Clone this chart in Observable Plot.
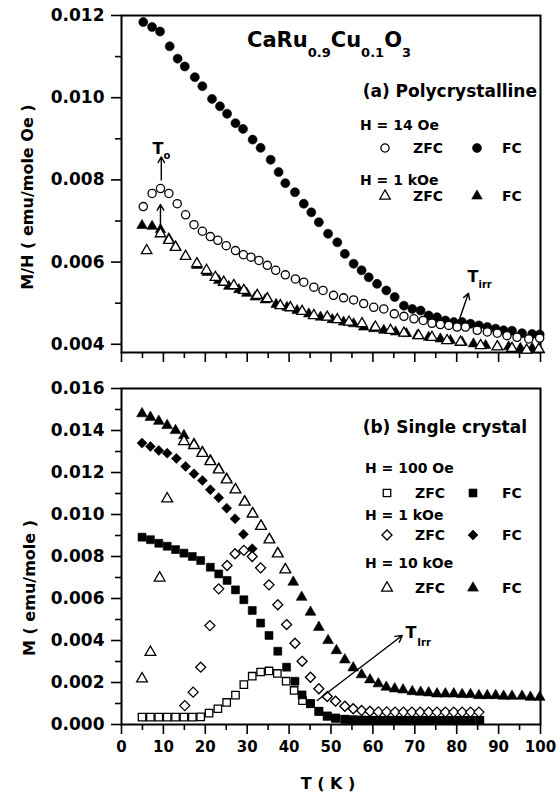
<!DOCTYPE html>
<html><head><meta charset="utf-8">
<script src="https://cdn.jsdelivr.net/npm/d3@7"></script>
<script src="https://cdn.jsdelivr.net/npm/@observablehq/plot@0.6"></script>
<style>
html,body{margin:0;padding:0;background:#fff;}
#chart{position:relative;width:557px;height:797px;overflow:hidden;background:#fff;}
#chart svg{position:absolute;left:0;}
</style></head><body><div id="chart"></div>
<script>
// ---------- Panel (a): Polycrystalline, M/H vs T ----------
const a_fc14_T = [5.2,7.3,9.2,11.5,13.4,15.1,17.5,19.3,21.6,23.5,25.2,27.2,29.0,31.3,33.2,35.6,37.5,39.1,41.4,43.5,45.3,47.1,49.3,51.5,53.3,55.4,57.3,59.0,61.0,63.2,65.2,67.4,69.4,71.4,73.3,75.3,77.3,79.3,81.3,83.3,85.3,87.3,89.3,91.2,93.2,95.6,98.0,99.8];
const a_fc14_M = [.01184,.01172,.01161,.01125,.01095,.01076,.0105,.01028,.00997,.00979,.00961,.00938,.00924,.00898,.00878,.00849,.00819,.00792,.00770,.00742,.00721,.00697,.00669,.00648,.0062,.00596,.0058,.00563,.00547,.00531,.00515,.00494,.00486,.00482,.0047,.00466,.00458,.00454,.00454,.0045,.00446,.00442,.00438,.00434,.00433,.00427,.00425,.00424];
const a_zfc14_T = [5.2,7.3,9.3,11.3,13.3,15.3,17.3,19.3,21.2,23.0,25.0,27.2,29.1,30.9,32.8,34.8,36.8,39.1,41.5,43.5,45.9,48.1,50.6,53.0,55.4,57.8,60.2,62.6,65.1,67.4,69.8,72.0,74.1,76.1,78.1,80.1,82.1,84.9,87.3,89.7,92.0,94.4,97.2,99.8];
const a_zfc14_M = [.00735,.00767,.00779,.00767,.00742,.00715,.00691,.00675,.00662,.00653,.0064,.00628,.00618,.00612,.00604,.00592,.0058,.00569,.00559,.00551,.00539,.00531,.00519,.00513,.00508,.00499,.0049,.00486,.00474,.00468,.00462,.00458,.00451,.00448,.00446,.00442,.00442,.00434,.0043,.00427,.00421,.00417,.00413,.00415];
const a_fc1k_T = [4.9,7.3,9.3,11.3,12.9,15.3,18.0,20.4,23.2,25.6,28.0,29.9,31.9,34.3,36.9,39.5,41.9,44.7,47.5,50.3,53.0,55.4,57.8,60.2,62.6,65.4,68.0,70.6,73.3,76.1,78.5,81.3,84.0,86.9,89.7,92.4,95.2,98.0,99.8];
const a_fc1k_M = [.00689,.00687,.00679,.00657,.00638,.00614,.00592,.00575,.00555,.00541,.00533,.00524,.00515,.00508,.00497,.0049,.00482,.00474,.00466,.0046,.00454,.0045,.00442,.00438,.00434,.0043,.00426,.00421,.00417,.00413,.00409,.00405,.00401,.00397,.00395,.00394,.0039,.0039,.00386];
const a_zfc1k_T = [6.0,9.3,11.3,12.9,15.3,18.0,20.3,22.4,24.4,26.8,29.2,32.4,34.8,37.9,40.3,43.1,45.9,49.1,51.5,54.3,57.4,60.6,64.2,67.4,70.9,74.1,77.7,80.9,85.7,89.7,93.2,96.7,99.6];
const a_zfc1k_M = [.00628,.00669,.00653,.00636,.00614,.00596,.0058,.00563,.00551,.00543,.00531,.00519,.00511,.00494,.00489,.0048,.0047,.00466,.0046,.00454,.0045,.00442,.00434,.00427,.00421,.00417,.00409,.00405,.00397,.00394,.0039,.00386,.00388];

// ---------- Panel (b): Single crystal, M vs T ----------
const b_fc100_T = [4.9,6.9,8.9,10.9,12.9,14.9,16.9,18.9,21.2,23.2,25.2,27.2,29.2,31.2,33.2,35.2,37.3,39.4,41.4,43.1,45.1,47.1,49.1,51.1,53.3,55.3,57.3,59.3,61.3,63.3,65.3,67.3,69.3,71.3,73.3,75.3,77.3,79.3,81.3,83.3,85.5];
const b_fc100_M = [.00892,.0088,.00863,.00849,.00833,.00816,.008,.00781,.00749,.00717,.00686,.00641,.00594,.00543,.00483,.00424,.00349,.00273,.00206,.00141,.00099,.00063,.0004,.0003,.00025,.00022,.00021,.0002,.0002,.0002,.0002,.0002,.0002,.0002,.0002,.0002,.0002,.0002,.0002,.0002,.0002];
const b_zfc100_T = [4.9,6.9,8.9,10.9,12.9,14.9,16.9,18.9,20.9,23.0,25.1,27.2,29.2,31.2,33.2,35.2,37.2,39.3,41.2,43.2,45.1,47.1,49.1,51.1,53.3,55.3,57.3,59.3,61.3,63.3,65.3,67.3,69.3,71.3,73.3,75.3,77.3,79.3,81.3,83.3,85.5];
const b_zfc100_M = [.00035,.00035,.00035,.00035,.00035,.00035,.00035,.00036,.00054,.00075,.00105,.0014,.0019,.0023,.0025,.00255,.00243,.00206,.00162,.00114,.00099,.00063,.0004,.0003,.00025,.00022,.00021,.0002,.0002,.0002,.0002,.0002,.0002,.0002,.0002,.0002,.0002,.0002,.0002,.0002,.0002];
const b_fc1k_T = [4.9,6.9,8.9,10.9,13.1,15.3,17.3,19.3,21.2,23.2,25.1,27.1,29.1,31.2,33.2,35.2,37.3,39.4,41.4,43.1,45.1,47.1,49.1,51.1,53.3,55.3];
const b_fc1k_M = [.0134,.01324,.01305,.01292,.01267,.01229,.01194,.01162,.01118,.0108,.0103,.0098,.00906,.00837,.00746,.00665,.0057,.00476,.00387,.00301,.00225,.0017,.00133,.00111,.00087,.00075];
const b_zfc1k_T = [15.1,17.1,18.9,21.1,23.2,25.2,27.1,29.2,31.2,33.2,35.2,37.3,39.4,41.4,43.1,45.1,47.1,49.1,51.1,53.3,55.3,57.3,59.3,61.3,63.3,65.3,67.3,69.3,71.3,73.3,75.3,77.3,79.3,81.3,83.3,85.3];
const b_zfc1k_M = [.0009,.00154,.00273,.00471,.00646,.00757,.00813,.00829,.008,.00746,.00665,.0057,.00476,.00387,.00301,.00225,.0017,.00133,.00111,.00087,.00075,.00067,.00063,.0006,.0006,.00059,.00059,.00059,.00059,.00059,.00059,.00059,.00059,.00059,.00059,.00059];
const b_fc10k_T = [4.9,6.9,8.9,10.9,12.9,14.9,17.3,19.3,21.2,23.2,25.1,27.2,29.4,31.3,33.3,35.3,37.3,39.1,41.0,43.0,45.1,47.1,49.3,51.3,53.3,55.3,57.3,59.3,61.3,63.2,65.2,67.2,69.4,71.4,73.3,75.3,77.3,79.3,81.3,83.3,85.3,87.3,89.3,91.2,93.2,95.6,97.6,99.8];
const b_fc10k_M = [.0148,.01463,.01444,.01424,.014,.01376,.01336,.01298,.01258,.01218,.0117,.0112,.01062,.01006,.00947,.00884,.00816,.0074,.00678,.00606,.00535,.00463,.004,.00352,.00308,.0027,.00237,.00213,.00194,.00178,.0017,.00165,.00157,.00154,.00151,.00146,.00146,.00146,.00143,.00143,.00138,.00138,.00138,.00135,.00135,.00135,.0013,.0013];
const b_zfc10k_T = [4.9,6.9,9.1,10.9,14.9,17.3,19.3,21.2,23.2,25.1,27.2,29.4,31.3,33.3,35.3,37.3,39.1];
const b_zfc10k_M = [.00218,.00344,.00698,.01075,.01348,.01329,.01292,.01252,.01213,.01165,.01118,.01059,.01003,.00944,.0088,.00813,.00737];

// ---------- ticks ----------
const xMajor = [0,10,20,30,40,50,60,70,80,90,100];
const xMinor = [5,15,25,35,45,55,65,75,85,95];
const aYMajor = [0.004,0.006,0.008,0.010,0.012];
const aYMinor = [0.005,0.007,0.009,0.011];
const bYMajor = [0,0.002,0.004,0.006,0.008,0.010,0.012,0.014,0.016];
const bYMinor = [0.001,0.003,0.005,0.007,0.009,0.011,0.013,0.015];

// ---------- annotations (data coords) ----------
const aArrows = [
  {T1: 9.5, M1: 0.0080, T2: 9.5, M2: 0.00856},
  {T1: 9.3, M1: 0.00684, T2: 9.3, M2: 0.00740},
  {T1: 80.4, M1: 0.00453, T2: 82.8, M2: 0.00524}
];
const bArrows = [{T1: 46.7, M1: 0.00114, T2: 67.0, M2: 0.00424}];
const aLabelMain = [{T: 7.4, M: 0.00876, s: "T"}, {T: 82.6, M: 0.00563, s: "T"}];
const aLabelSub = [{T: 10.0, M: 0.00858, s: "o"}, {T: 85.2, M: 0.00544, s: "irr"}];
const bLabelMain = [{T: 67.8, M: 0.00438, s: "T"}];
const bLabelSub = [{T: 70.6, M: 0.00391, s: "Irr"}];

const titleMain = ["CaRu", "Cu", "O"];
const titleSub = ["0.9", "0.1", "3"];

const FONT = "DejaVu Sans";
const zip = (T, M) => T.map((t, i) => ({T: t, M: M[i]}));
const blank = () => "";
const fmt3 = d3.format(".3f");

const openOpt = {fill: "white", stroke: "black", strokeWidth: 1.3};
const fillOpt = {fill: "black", stroke: "black", strokeWidth: 0.6};

const topPlot = Plot.plot({
  width: 557, height: 370,
  marginLeft: 121, marginRight: 17, marginTop: 15, marginBottom: 18,
  x: {domain: [0, 100]},
  y: {domain: [0.0038, 0.012]},
  style: {fontFamily: FONT, fontWeight: "bold", color: "black", background: "white", overflow: "visible"},
  marks: [
    Plot.axisY({ticks: aYMajor, tickSize: 10, tickPadding: 7, tickFormat: fmt3, fontSize: 17, strokeWidth: 1.6, label: null}),
    Plot.axisY({ticks: aYMinor, tickSize: 6, tickFormat: blank, strokeWidth: 1.6, label: null}),
    Plot.axisX({ticks: xMajor, tickSize: 10, tickFormat: blank, strokeWidth: 1.6, label: null}),
    Plot.axisX({ticks: xMinor, tickSize: 6, tickFormat: blank, strokeWidth: 1.6, label: null}),
    Plot.frame({stroke: "black", strokeWidth: 2}),
    Plot.dot(zip(a_fc14_T, a_fc14_M), {x: "T", y: "M", symbol: "circle", r: 4.5, ...fillOpt}),
    Plot.dot(zip(a_zfc14_T, a_zfc14_M), {x: "T", y: "M", symbol: "circle", r: 4.1, ...openOpt}),
    Plot.dot(zip(a_fc1k_T, a_fc1k_M), {x: "T", y: "M", symbol: "triangle", r: 3.9, ...fillOpt}),
    Plot.dot(zip(a_zfc1k_T, a_zfc1k_M), {x: "T", y: "M", symbol: "triangle", r: 3.9, ...openOpt}),
    Plot.arrow(aArrows, {x1: "T1", y1: "M1", x2: "T2", y2: "M2", stroke: "black", strokeWidth: 1.4, headLength: 7}),
    Plot.text(aLabelMain, {x: "T", y: "M", text: "s", textAnchor: "start", fontSize: 16, fontWeight: "bold", fill: "black"}),
    Plot.text(aLabelSub, {x: "T", y: "M", text: "s", textAnchor: "start", fontSize: 10, fontWeight: "bold", fill: "black"})
  ]
});

const botPlot = Plot.plot({
  width: 557, height: 427,
  marginLeft: 121, marginRight: 17, marginTop: 18, marginBottom: 73,
  x: {domain: [0, 100]},
  y: {domain: [0, 0.016]},
  style: {fontFamily: FONT, fontWeight: "bold", color: "black", background: "white", overflow: "visible"},
  marks: [
    Plot.axisY({ticks: bYMajor, tickSize: 10, tickPadding: 7, tickFormat: fmt3, fontSize: 17, strokeWidth: 1.6, label: null}),
    Plot.axisY({ticks: bYMinor, tickSize: 6, tickFormat: blank, strokeWidth: 1.6, label: null}),
    Plot.axisX({ticks: xMajor, tickSize: 10, tickPadding: 7, tickFormat: d => String(d), fontSize: 15, strokeWidth: 1.6, label: null}),
    Plot.axisX({ticks: xMinor, tickSize: 6, tickFormat: blank, strokeWidth: 1.6, label: null}),
    Plot.frame({stroke: "black", strokeWidth: 2}),
    Plot.dot(zip(b_zfc100_T, b_zfc100_M), {x: "T", y: "M", symbol: "square", r: 4.2, ...openOpt}),
    Plot.dot(zip(b_fc100_T, b_fc100_M), {x: "T", y: "M", symbol: "square", r: 4.5, ...fillOpt}),
    Plot.dot(zip(b_fc1k_T, b_fc1k_M), {x: "T", y: "M", symbol: "diamond2", r: 4.5, ...fillOpt}),
    Plot.dot(zip(b_zfc1k_T, b_zfc1k_M), {x: "T", y: "M", symbol: "diamond2", r: 4.5, ...openOpt}),
    Plot.dot(zip(b_fc10k_T, b_fc10k_M), {x: "T", y: "M", symbol: "triangle", r: 4.0, ...fillOpt}),
    Plot.dot(zip(b_zfc10k_T, b_zfc10k_M), {x: "T", y: "M", symbol: "triangle", r: 4.0, ...openOpt}),
    Plot.arrow(bArrows, {x1: "T1", y1: "M1", x2: "T2", y2: "M2", stroke: "black", strokeWidth: 1.4, headLength: 8}),
    Plot.text(bLabelMain, {x: "T", y: "M", text: "s", textAnchor: "start", fontSize: 16, fontWeight: "bold", fill: "black"}),
    Plot.text(bLabelSub, {x: "T", y: "M", text: "s", textAnchor: "start", fontSize: 10, fontWeight: "bold", fill: "black"})
  ]
});

const chart = document.getElementById("chart");
topPlot.style.top = "0px";
botPlot.style.top = "370px";
chart.appendChild(topPlot);
chart.appendChild(botPlot);

function txt(svg, x, y, s, size, anchor = "start", rot = false) {
  const t = d3.select(svg).append("text")
    .attr("font-family", FONT).attr("font-weight", "bold").attr("font-size", size)
    .attr("fill", "black").attr("text-anchor", anchor).text(s);
  if (rot) t.attr("transform", `translate(${x},${y}) rotate(-90)`);
  else t.attr("x", x).attr("y", y);
  return t;
}
function sym(svg, type, x, y, size, filled) {
  d3.select(svg).append("path")
    .attr("d", d3.symbol(type, size)())
    .attr("transform", `translate(${x},${y})`)
    .attr("fill", filled ? "black" : "white")
    .attr("stroke", "black").attr("stroke-width", filled ? 0.6 : 1.3);
}

// title
const tt = d3.select(topPlot).append("text").attr("x", 247).attr("y", 47)
  .attr("text-anchor", "start")
  .attr("font-family", FONT).attr("font-weight", "bold").attr("fill", "black");
titleMain.forEach((m, i) => {
  tt.append("tspan").attr("font-size", 21).attr("dy", i === 0 ? 0 : -10).text(m);
  tt.append("tspan").attr("font-size", 13).attr("dy", 10).text(titleSub[i]);
});

// axis titles
txt(topPlot, 33, 197, "M/H ( emu/mole Oe )", 16, "middle", true);
txt(botPlot, 35, 588 - 370, "M ( emu/mole )", 16, "middle", true);
txt(botPlot, 328, 789 - 370, "T ( K )", 16, "middle");

// panel labels and legends
txt(topPlot, 537, 97, "(a) Polycrystalline", 17, "end");
txt(topPlot, 360, 130, "H = 14 Oe", 14);
sym(topPlot, d3.symbolCircle, 385, 148, Math.PI * 4.1 * 4.1, false);
txt(topPlot, 413, 153, "ZFC", 14);
sym(topPlot, d3.symbolCircle, 477, 148, Math.PI * 4.5 * 4.5, true);
txt(topPlot, 502, 153, "FC", 14);
txt(topPlot, 360, 185, "H = 1 kOe", 14);
sym(topPlot, d3.symbolTriangle, 385, 196, Math.PI * 3.9 * 3.9, false);
txt(topPlot, 413, 201, "ZFC", 14);
sym(topPlot, d3.symbolTriangle, 477, 196, Math.PI * 3.9 * 3.9, true);
txt(topPlot, 502, 201, "FC", 14);

const o = 370;
txt(botPlot, 527, 433 - o, "(b) Single crystal", 17, "end");
txt(botPlot, 365, 473 - o, "H = 100 Oe", 14);
sym(botPlot, d3.symbolSquare, 387, 493 - o, Math.PI * 4.2 * 4.2, false);
txt(botPlot, 415, 498 - o, "ZFC", 14);
sym(botPlot, d3.symbolSquare, 473, 493 - o, Math.PI * 4.5 * 4.5, true);
txt(botPlot, 502, 498 - o, "FC", 14);
txt(botPlot, 365, 520 - o, "H = 1 kOe", 14);
sym(botPlot, d3.symbolDiamond2, 387, 535 - o, Math.PI * 4.5 * 4.5, false);
txt(botPlot, 415, 540 - o, "ZFC", 14);
sym(botPlot, d3.symbolDiamond2, 473, 535 - o, Math.PI * 4.5 * 4.5, true);
txt(botPlot, 502, 540 - o, "FC", 14);
txt(botPlot, 365, 568 - o, "H = 10 kOe", 14);
sym(botPlot, d3.symbolTriangle, 387, 588 - o, Math.PI * 4.0 * 4.0, false);
txt(botPlot, 415, 593 - o, "ZFC", 14);
sym(botPlot, d3.symbolTriangle, 473, 588 - o, Math.PI * 4.0 * 4.0, true);
txt(botPlot, 502, 593 - o, "FC", 14);
</script></body></html>
